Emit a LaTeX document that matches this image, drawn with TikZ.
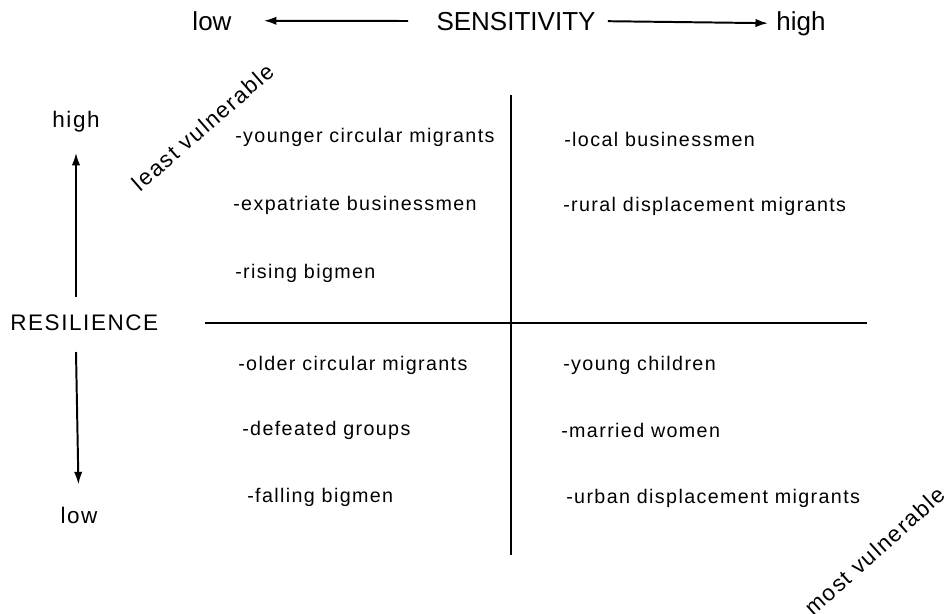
\documentclass[tikz,border=0pt]{standalone}
\usepackage{fontspec}
\setmainfont{Liberation Sans}
\newfontfamily\spacedfont[LetterSpace=7]{Liberation Sans}
\usetikzlibrary{arrows,arrows.meta}
\tikzset{item label/.style={anchor=west,inner sep=0pt,
    font=\spacedfont\fontsize{14}{16}\selectfont}}
\tikzset{axis label/.style={inner sep=0pt,
    font=\spacedfont\fontsize{16}{18}\selectfont}}
\tikzset{top label/.style={anchor=base,inner sep=0pt,
    font=\fontsize{18.5}{21}\selectfont}}
\tikzset{axis arrow/.style={line width=1.4pt,-{Latex[length=9pt,width=6pt]}}}
\tikzset{quad line/.style={line width=1.5pt}}

\begin{document}
\begin{tikzpicture}[x=0.025cm,y=-0.025cm]
  \path[use as bounding box] (0,0) rectangle (947,613);
  % sensitivity axis along the top
  \node[top label] (sens) at (516,30) {SENSITIVITY};
  \node[top label] (senslow) at (212,30) {low};
  \node[top label] (senshigh) at (801,30) {high};
  \draw[axis arrow,shorten <=28*0.025cm,shorten >=32*0.025cm] (sens.west) -- (senslow.east);
  \draw[axis arrow,shorten <=12*0.025cm,shorten >=8*0.025cm] (sens.east) -- (senshigh.west);
  % resilience axis on the left
  \node[axis label,anchor=west] (resil) at (10,323) {RESILIENCE};
  \node[axis label] (reshigh) at (76,122) {high};
  \node[axis label] (reslow) at (79,515) {low};
  \coordinate (restop) at (76,297);
  \coordinate (resbot) at (76,352);
  \draw[axis arrow,shorten >=20*0.025cm] (restop) -- (reshigh);
  \draw[axis arrow,shorten >=22*0.025cm] (resbot) -- (reslow);
  % the four quadrants
  \coordinate (vtop) at (511,95);
  \coordinate (vbot) at (511,555);
  \coordinate (hleft) at (205,323);
  \coordinate (hright) at (867,323);
  \draw[quad line] (vtop) -- (vbot);
  \draw[quad line] (hleft) -- (hright);
  \node[item label] (younger) at (235,137) {-younger circular migrants};
  \node[item label] (expat) at (233,205) {-expatriate businessmen};
  \node[item label] (rising) at (235,273) {-rising bigmen};
  \node[item label] (older) at (238,365) {-older circular migrants};
  \node[item label] (defeated) at (242,430) {-defeated groups};
  \node[item label] (falling) at (247,497) {-falling bigmen};
  \node[item label] (localb) at (564,139) {-local businessmen};
  \node[item label] (rural) at (563,206) {-rural displacement migrants};
  \node[item label] (children) at (563,365) {-young children};
  \node[item label] (women) at (561,430) {-married women};
  \node[item label] (urban) at (566,498) {-urban displacement migrants};
  \node[axis label,rotate=41] (least) at (203,127) {least vulnerable};
  \node[axis label,rotate=42] (most) at (875,551) {most vulnerable};
\end{tikzpicture}
\end{document}
